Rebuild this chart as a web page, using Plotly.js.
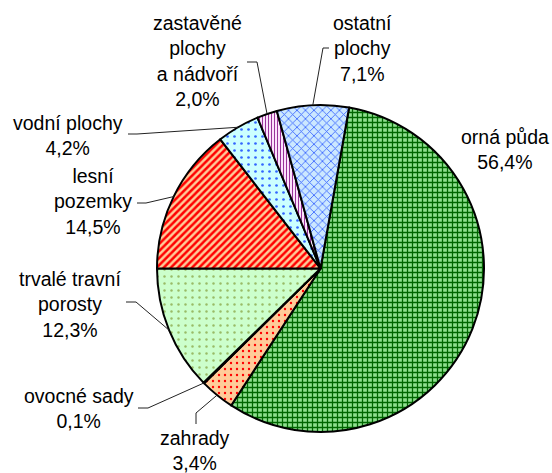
<!DOCTYPE html>
<html>
<head>
<meta charset="utf-8">
<script src="https://cdn.plot.ly/plotly-3.0.1.min.js"></script>
<style>html,body{margin:0;padding:0;background:#fff;}#chart{width:552px;height:473px;}</style>
</head>
<body>
<div id="chart"></div>
<script>
// ---- data ----
const categories = ["orná půda", "zahrady", "ovocné sady", "trvalé travní porosty", "lesní pozemky", "vodní plochy", "zastavěné plochy a nádvoří", "ostatní plochy"];
const labelTexts = ["orná půda<br>56,4%", "zahrady<br>3,4%", "ovocné sady<br>0,1%", "trvalé travní<br>porosty<br>12,3%", "lesní<br>pozemky<br>14,5%", "vodní plochy<br>4,2%", "zastavěné<br>plochy<br>a nádvoří<br>2,0%", "ostatní<br>plochy<br>7,1%"];
const values = [56.4, 3.4, 0.1, 12.3, 14.5, 4.2, 2.0, 7.1];

// ---- styles ----
const bgColors = ["#8fe08f", "#ffcc99", "#ffff99", "#ccffcc", "#ffcc99", "#ccffff", "#fbe2fb", "#cce8ff"];
const fgColors = ["#006600", "#ff0000", "#999900", "#99bb66", "#ff0000", "#3366ff", "#993399", "#2f5cff"];
const shapes = ["+", ".", ".", ".", "/", ".", "|", "x"];
const psizes = [5, 6, 6, 7, 5, 7, 3, 6];
const solid = [0.45, 0.12, 0.12, 0.1, 0.5, 0.12, 0.35, 0.25];

const W = 552, H = 473;
const cxPx = 320.5, cyPx = 268.5, R = 163.5;
const dom = {x: [(cxPx - R) / W, (cxPx + R) / W], y: [1 - (cyPx + R) / H, 1 - (cyPx - R) / H]};

// label placement (pixel centres) and leader line start/elbow points
const labelPos = [[505, 149], [195, 450], [79, 408], [70, 304], [93, 202], [68, 135], [197, 61], [362, 48]];
const leaderStart = [null, [196, 424], [138, 408], [126, 302], [137, 203], [128, 134], [247, 62], [329, 48]];
const leaderElbow = [null, [196, 413], [148, 408], [136, 302], [146, 203], [137, 134], [257, 62], [323, 48]];

const total = values.reduce((a, b) => a + b, 0);
// first four slices end at 9 o'clock (270° clockwise from top)
const rotation = 270 - 360 * (values[0] + values[1] + values[2] + values[3]) / total;

const px = x => x / W, py = y => 1 - y / H;

const annotations = [], lineShapes = [];
let cum = 0;
values.forEach((v, i) => {
  const mid = (rotation + 360 * (cum + v / 2) / total) * Math.PI / 180;
  cum += v;
  annotations.push({
    x: px(labelPos[i][0]), y: py(labelPos[i][1]), xref: 'paper', yref: 'paper',
    text: labelTexts[i], showarrow: false, xanchor: 'center', yanchor: 'middle', align: 'center',
    font: {family: 'Liberation Sans, Arial, sans-serif', size: 19.5, color: '#000'}
  });
  if (leaderStart[i]) {
    const ex = cxPx + R * Math.sin(mid), ey = cyPx - R * Math.cos(mid);
    const s = leaderStart[i], e = leaderElbow[i];
    lineShapes.push({
      type: 'path', xref: 'paper', yref: 'paper',
      path: `M ${px(s[0])},${py(s[1])} L ${px(e[0])},${py(e[1])} L ${px(ex)},${py(ey)}`,
      line: {color: '#222', width: 1}
    });
  }
});

const trace = {
  type: 'pie', labels: categories, values: values, sort: false, direction: 'clockwise',
  rotation: rotation, textinfo: 'none', hoverinfo: 'label+percent',
  domain: dom,
  marker: {
    colors: bgColors,
    line: {color: '#000', width: 2},
    pattern: {shape: shapes, bgcolor: bgColors, fgcolor: fgColors, size: psizes, solidity: solid, fillmode: 'replace'}
  }
};

Plotly.newPlot('chart', [trace], {
  width: W, height: H, margin: {l: 0, r: 0, t: 0, b: 0},
  paper_bgcolor: '#fff', showlegend: false,
  annotations: annotations, shapes: lineShapes
}, {displayModeBar: false, staticPlot: true});
</script>
</body>
</html>
